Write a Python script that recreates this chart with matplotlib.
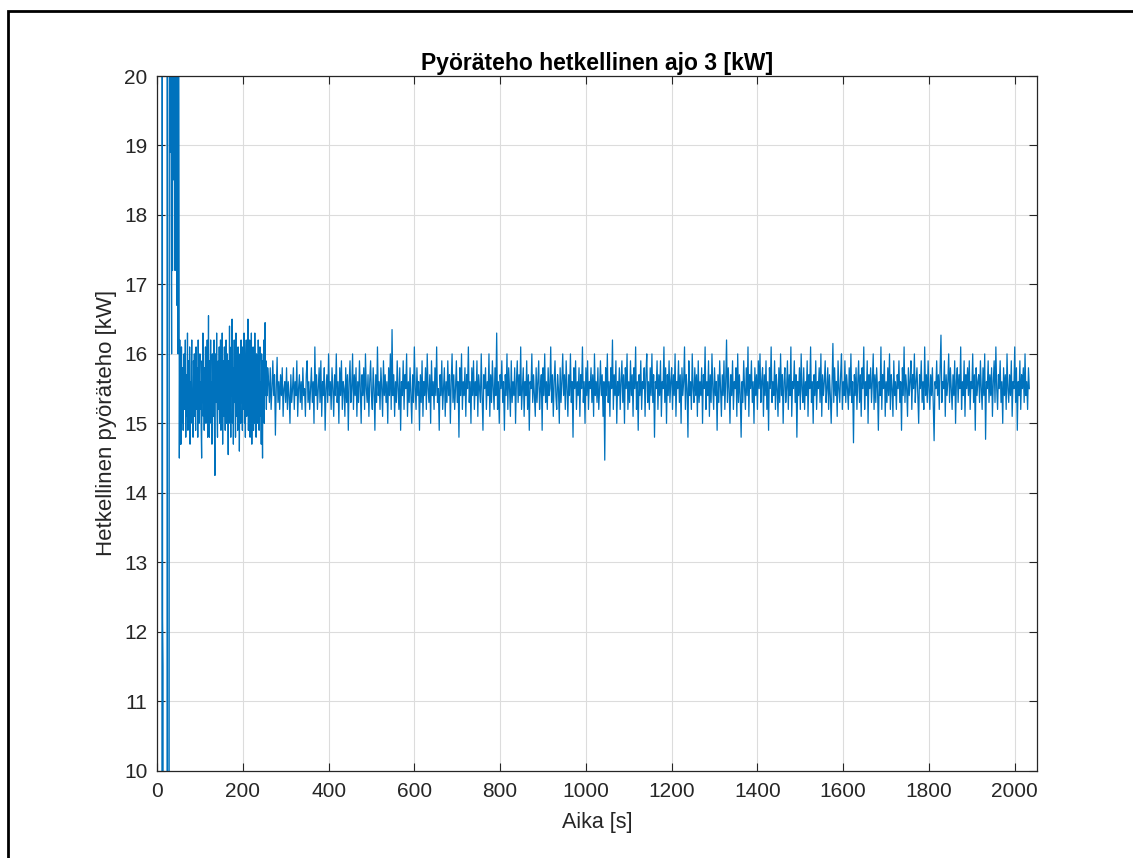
import numpy as np
import matplotlib
matplotlib.use('Agg')
import matplotlib.pyplot as plt
from matplotlib.patches import Rectangle

plt.rcParams['font.family'] = ['Liberation Sans', 'DejaVu Sans']

# käynnistys 0-54 s, 1 s välein (arvot alle 10 / yli 20 menevät kuvan ulkopuolelle)
aika_alku = np.arange(0, 55, 1)
teho_alku = [0.0, 0.0, 0.0, 0.0, 0.0, 0.0, 0.0, 0.0, 0.0, 0.0, 0.0, 0.0,
             24.0, 12.2, 11.5, 0.0, 0.0, 0.0, 0.0, 0.0, 0.0, 0.0, 0.0, 0.0,
             30.0, 3.0, 3.0, 3.0, 3.0, 28.0, 22.0, 18.9, 23.0, 17.9, 16.0,
             24.0, 17.2, 22.0, 19.0, 24.0, 18.5, 23.0, 17.2, 21.5, 20.5,
             22.0, 16.7, 21.0, 23.0, 16.0, 22.0, 19.6, 14.5, 16.2, 14.7]

# levoton vaihe 55-258 s, 1 s välein
aika_1 = np.arange(55, 259, 1)
teho_1 = [15.9, 14.7, 16.1, 15.3, 15.0, 15.8, 14.9, 15.6, 16.0, 15.2, 15.5, 16.2,
          14.8, 15.4, 15.7, 15.1, 16.3, 14.9, 15.5, 15.9, 15.3, 16.1, 14.7, 15.6,
          15.0, 15.8, 16.2, 15.2, 15.4, 14.8, 15.9, 15.3, 16.0, 15.1, 15.7, 14.9,
          16.1, 15.5, 15.2, 15.8, 14.8, 16.2, 15.4, 15.0, 15.7, 16.0, 15.2, 15.6,
          14.9, 14.5, 15.9, 15.3, 16.3, 15.1, 15.6, 14.9, 15.8, 15.4, 16.1, 15.0,
          15.7, 15.3, 16.2, 14.8, 15.5, 16.55, 15.2, 14.8, 15.9, 15.4, 16.2, 15.0,
          15.6, 14.7, 16.0, 15.3, 15.8, 15.1, 16.2, 14.9, 14.25, 15.7, 16.0, 15.3,
          16.3, 15.1, 14.8, 15.6, 15.9, 15.2, 16.1, 15.0, 15.5, 16.2, 14.9, 15.8,
          15.2, 16.3, 14.7, 15.6, 15.9, 15.1, 16.1, 15.4, 14.9, 15.8, 16.2, 15.0,
          15.5, 16.0, 15.2, 14.55, 15.9, 15.3, 16.4, 15.0, 15.7, 14.8, 16.1, 15.4,
          16.5, 15.0, 15.8, 14.7, 15.6, 16.2, 15.3, 15.9, 14.8, 16.3, 15.1, 15.6,
          15.7, 14.9, 16.1, 15.2, 16.0, 14.6, 15.8, 15.4, 15.0, 16.2, 15.3, 15.7,
          14.9, 16.1, 15.2, 15.8, 16.3, 15.0, 15.6, 14.8, 15.9, 16.2, 15.1, 15.5,
          15.7, 16.5, 14.9, 15.6, 15.3, 16.2, 14.8, 15.9, 15.1, 16.3, 14.7, 15.6,
          15.2, 16.1, 14.9, 15.8, 15.0, 16.3, 15.4, 15.7, 14.8, 16.0, 15.2, 15.9,
          15.0, 16.2, 15.5, 14.9, 15.8, 16.1, 15.1, 15.6, 14.7, 16.0, 15.3, 14.5,
          15.9, 15.2, 16.2, 15.0, 15.7, 16.45, 15.4, 15.9, 15.2, 15.7, 15.4, 15.8]

# tasainen ajo 260 s eteenpäin, 2 s välein
teho_2 = [15.6, 15.3, 15.8, 15.2, 15.5, 15.9, 15.4, 15.7, 14.83, 15.5, 15.95, 15.3,
          15.6, 15.2, 15.7, 15.4, 15.8, 15.1, 15.5, 15.6, 15.3, 15.8, 15.2, 15.6,
          15.4, 15.0, 15.7, 15.3, 15.5, 15.8, 15.2, 15.6, 15.4, 15.9, 15.1, 15.5,
          15.7, 15.3, 15.6, 15.2, 15.8, 15.4, 15.5, 15.1, 15.7, 15.9, 15.3, 15.6,
          15.2, 15.5, 15.8, 15.3, 15.6, 15.0, 16.1, 15.4, 15.7, 15.2, 15.5, 15.8,
          15.3, 15.9, 15.1, 15.6, 15.4, 15.8, 14.9, 15.5, 15.7, 15.3, 16.0, 15.4,
          15.6, 15.2, 15.8, 15.5, 15.1, 15.7, 15.4, 16.0, 15.3, 15.6, 15.0, 15.8,
          15.4, 15.9, 15.2, 15.6, 15.5, 15.1, 15.8, 15.3, 15.7, 14.9, 15.6, 15.9,
          15.3, 15.5, 16.0, 15.2, 15.7, 15.4, 15.8, 15.1, 15.6, 15.3, 15.9, 15.5,
          15.0, 15.7, 15.4, 15.8, 15.2, 16.0, 15.5, 15.3, 15.7, 15.1, 15.6, 15.9,
          15.4, 15.2, 15.8, 15.5, 14.9, 15.7, 15.3, 16.1, 15.4, 15.6, 15.2, 15.8,
          15.5, 15.1, 15.9, 15.4, 15.7, 15.3, 15.6, 15.0, 15.8, 15.4, 16.0, 15.2,
          16.35, 15.4, 15.7, 15.1, 15.6, 15.3, 15.9, 15.5, 15.2, 15.8, 14.9, 15.6,
          15.4, 15.9, 15.2, 15.7, 15.5, 16.0, 15.1, 15.6, 15.3, 15.8, 15.4, 15.0,
          15.7, 15.3, 16.1, 15.5, 15.2, 15.8, 15.4, 15.6, 14.9, 15.7, 15.3, 15.9,
          15.1, 15.6, 15.4, 15.8, 15.2, 16.0, 15.5, 15.3, 15.7, 15.0, 15.9, 15.4,
          15.6, 15.2, 15.8, 15.4, 16.1, 15.3, 15.5, 14.9, 15.7, 15.4, 15.9, 15.2,
          15.5, 15.8, 15.1, 15.6, 15.3, 15.9, 15.4, 15.7, 15.0, 15.6, 16.0, 15.3,
          15.7, 15.2, 15.5, 15.9, 15.3, 15.6, 14.8, 15.8, 15.4, 16.0, 15.2, 15.6,
          15.4, 15.8, 15.1, 15.7, 15.5, 16.1, 15.3, 15.6, 15.0, 15.8, 15.4, 15.9,
          15.2, 15.6, 15.4, 15.9, 15.1, 15.7, 15.5, 15.3, 16.0, 15.4, 14.9, 15.7,
          15.5, 15.8, 15.2, 15.6, 15.4, 16.0, 15.1, 15.7, 15.3, 15.9, 15.5, 15.2,
          15.8, 15.4, 16.3, 15.2, 15.6, 15.0, 15.7, 15.5, 15.9, 15.3, 15.6, 14.9,
          15.7, 15.4, 16.0, 15.2, 15.8, 15.5, 15.1, 15.9, 15.3, 15.6, 15.4, 15.8,
          15.0, 15.6, 15.9, 15.3, 15.7, 15.4, 16.1, 15.2, 15.5, 15.8, 15.1, 15.6,
          15.4, 15.9, 15.2, 15.7, 14.9, 15.6, 15.5, 16.0, 15.3, 15.7, 15.4, 15.1,
          15.8, 15.3, 15.6, 15.9, 15.2, 15.5, 15.7, 14.9, 15.8, 15.4, 16.0, 15.3,
          15.6, 15.2, 15.8, 15.4, 15.5, 16.1, 15.3, 15.7, 15.1, 15.6, 15.9, 15.4,
          15.2, 15.7, 15.5, 15.0, 15.8, 15.3, 15.6, 16.0, 15.4, 15.7, 15.2, 15.9,
          15.5, 15.1, 15.7, 15.4, 16.0, 15.3, 15.6, 14.8, 15.8, 15.5, 15.9, 15.2,
          15.6, 15.4, 15.8, 15.1, 15.7, 15.5, 16.1, 15.3, 15.6, 15.0, 15.8, 15.4,
          15.9, 15.2, 15.6, 15.5, 15.8, 15.3, 15.7, 15.1, 16.0, 15.4, 15.6, 15.3,
          15.8, 15.2, 15.5, 15.9, 15.4, 15.7, 15.1, 15.6, 14.47, 15.8, 15.4, 16.0,
          15.3, 15.6, 15.1, 15.8, 15.5, 16.2, 15.2, 15.7, 15.4, 15.9, 15.0, 15.6,
          15.4, 15.8, 15.2, 15.6, 15.9, 15.3, 15.7, 15.0, 15.8, 15.5, 16.0, 15.2,
          15.6, 15.3, 15.9, 15.4, 15.7, 15.1, 15.8, 15.5, 16.1, 15.2, 15.6, 14.9,
          15.7, 15.4, 15.9, 15.2, 15.6, 15.5, 15.8, 15.1, 15.7, 16.0, 15.3, 15.6,
          15.2, 15.8, 15.4, 16.0, 15.3, 15.7, 14.8, 15.6, 15.5, 15.9, 15.2, 15.7,
          15.4, 15.9, 15.1, 15.6, 15.5, 16.1, 15.3, 15.8, 15.0, 15.7, 15.4, 15.9,
          15.3, 15.6, 15.8, 15.2, 15.7, 15.4, 16.0, 15.1, 15.6, 15.5, 15.9, 15.3,
          15.7, 15.0, 15.8, 15.4, 15.6, 16.1, 15.2, 15.7, 15.5, 14.8, 15.9, 15.4,
          15.6, 15.2, 16.0, 15.5, 15.3, 15.8, 15.4, 15.7, 15.1, 15.9, 15.3, 15.6,
          15.4, 15.8, 15.0, 15.7, 15.5, 16.1, 15.2, 15.6, 15.4, 15.9, 15.1, 15.7,
          15.3, 16.0, 15.5, 15.2, 15.8, 15.4, 15.6, 14.9, 15.7, 15.3, 15.9, 15.5,
          15.1, 15.7, 15.4, 15.9, 15.2, 15.6, 16.2, 15.3, 15.8, 15.5, 15.0, 15.7,
          15.4, 15.9, 15.2, 15.6, 15.5, 15.8, 15.1, 16.0, 15.3, 15.7, 15.4, 14.8,
          15.6, 15.3, 15.9, 15.5, 15.2, 15.8, 15.4, 16.1, 15.1, 15.7, 15.5, 15.9,
          15.3, 15.6, 15.0, 15.8, 15.4, 15.7, 15.2, 15.9, 15.5, 16.0, 15.3, 15.6,
          15.8, 15.1, 15.7, 15.4, 15.9, 15.2, 15.6, 14.9, 15.8, 15.5, 16.1, 15.3,
          15.6, 15.4, 15.9, 15.2, 15.7, 15.5, 15.1, 15.8, 15.3, 16.0, 15.4, 15.7,
          15.0, 15.6, 15.8, 15.3, 15.5, 15.9, 15.2, 15.7, 15.4, 16.1, 15.1, 15.6,
          15.5, 15.9, 15.3, 15.7, 14.8, 15.6, 15.4, 15.8, 15.2, 16.0, 15.5, 15.3,
          15.8, 15.2, 15.6, 15.4, 15.9, 15.1, 15.7, 15.5, 16.1, 15.3, 15.6, 15.0,
          15.7, 15.4, 15.9, 15.2, 15.6, 15.5, 15.8, 15.3, 16.0, 15.1, 15.7, 15.4,
          15.6, 15.9, 15.3, 15.5, 15.8, 15.2, 15.7, 15.4, 15.0, 15.6, 16.15, 15.3,
          15.8, 15.4, 15.6, 15.1, 15.9, 15.5, 15.3, 15.7, 16.0, 15.2, 15.6, 15.4,
          15.9, 15.3, 15.7, 15.5, 15.2, 15.8, 15.4, 16.0, 15.3, 15.6, 14.72, 15.7,
          15.4, 15.8, 15.2, 15.6, 15.9, 15.3, 15.7, 15.1, 15.8, 15.5, 16.1, 15.2,
          15.6, 15.4, 15.9, 15.0, 15.7, 15.5, 15.8, 15.3, 15.6, 16.0, 15.2, 15.7,
          15.3, 15.8, 15.5, 14.9, 15.6, 15.4, 16.1, 15.2, 15.7, 15.5, 15.9, 15.1,
          15.6, 15.3, 15.8, 15.4, 16.0, 15.2, 15.7, 15.5, 15.1, 15.9, 15.4, 15.6,
          15.2, 15.7, 15.5, 15.9, 15.3, 15.6, 14.9, 15.8, 15.4, 16.1, 15.3, 15.7,
          15.5, 15.1, 15.8, 15.4, 15.6, 15.9, 15.2, 15.7, 15.5, 16.0, 15.3, 15.6,
          15.8, 15.4, 15.0, 15.7, 15.5, 15.9, 15.3, 15.6, 15.2, 16.1, 15.4, 15.7,
          15.3, 15.9, 15.5, 15.2, 15.7, 15.4, 15.8, 15.3, 14.75, 15.6, 15.5, 15.9,
          15.4, 15.7, 15.2, 15.8, 16.27, 15.3, 15.6, 15.5, 15.9, 15.1, 15.7, 15.4,
          15.6, 16.0, 15.3, 15.8, 15.5, 15.2, 15.7, 15.4, 15.9, 15.0, 15.6, 15.8,
          15.3, 15.7, 15.5, 16.1, 15.2, 15.6, 15.4, 15.9, 15.1, 15.7, 15.5, 15.8,
          15.4, 15.9, 15.2, 15.6, 15.5, 16.0, 15.3, 15.7, 14.9, 15.8, 15.4, 15.6,
          15.7, 15.3, 15.9, 15.5, 15.2, 15.8, 15.4, 16.0, 14.77, 15.6, 15.5, 15.9,
          15.3, 15.7, 15.4, 15.8, 15.1, 15.6, 15.9, 15.3, 16.1, 15.5, 15.2, 15.7,
          15.5, 15.9, 15.3, 15.6, 15.0, 15.8, 15.4, 15.7, 15.2, 16.0, 15.5, 15.3,
          15.7, 15.4, 15.9, 15.1, 15.6, 15.5, 16.1, 15.3, 15.8, 14.9, 15.6, 15.4,
          15.9, 15.2, 15.7, 15.5, 15.8, 15.3, 16.0, 15.4, 15.6, 15.2, 15.8, 15.5]
aika_2 = 260 + 2 * np.arange(len(teho_2))

aika = np.concatenate([aika_alku, aika_1, aika_2])
teho = np.concatenate([teho_alku, teho_1, teho_2])

fig = plt.figure(figsize=(11.33, 8.58), dpi=100)
ax = fig.add_axes([0.1386, 0.1018, 0.7767, 0.8096])

ax.plot(aika, teho, color='#0072BD', linewidth=0.9)

ax.set_xlim(0, 2052)
ax.set_ylim(10, 20)
ax.set_xticks(np.arange(0, 2001, 200))
ax.set_yticks(np.arange(10, 21, 1))
ax.grid(True, color='#dcdcdc', linewidth=0.8)
ax.set_axisbelow(True)

ax.tick_params(direction='in', top=True, right=True, length=6, width=0.8,
               colors='#262626', labelsize=15)
ax.tick_params(axis='x', pad=8)
ax.tick_params(axis='y', pad=7)
for s in ax.spines.values():
    s.set_color('#262626')
    s.set_linewidth(0.9)

ax.set_title('Pyöräteho hetkellinen ajo 3 [kW]', fontsize=16.5, fontweight='bold', pad=4)
ax.set_xlabel('Aika [s]', fontsize=15.5, color='#262626', labelpad=8)
ax.set_ylabel('Hetkellinen pyöräteho [kW]', fontsize=16, color='#262626', labelpad=5)

# kehys kuvan ympärillä
fig.patches.append(Rectangle((8 / 1133, -0.05), 1.1, 1 - 11 / 858 + 0.05,
                             transform=fig.transFigure, fill=False,
                             edgecolor='black', linewidth=2))

plt.savefig('out.png', dpi=100)
